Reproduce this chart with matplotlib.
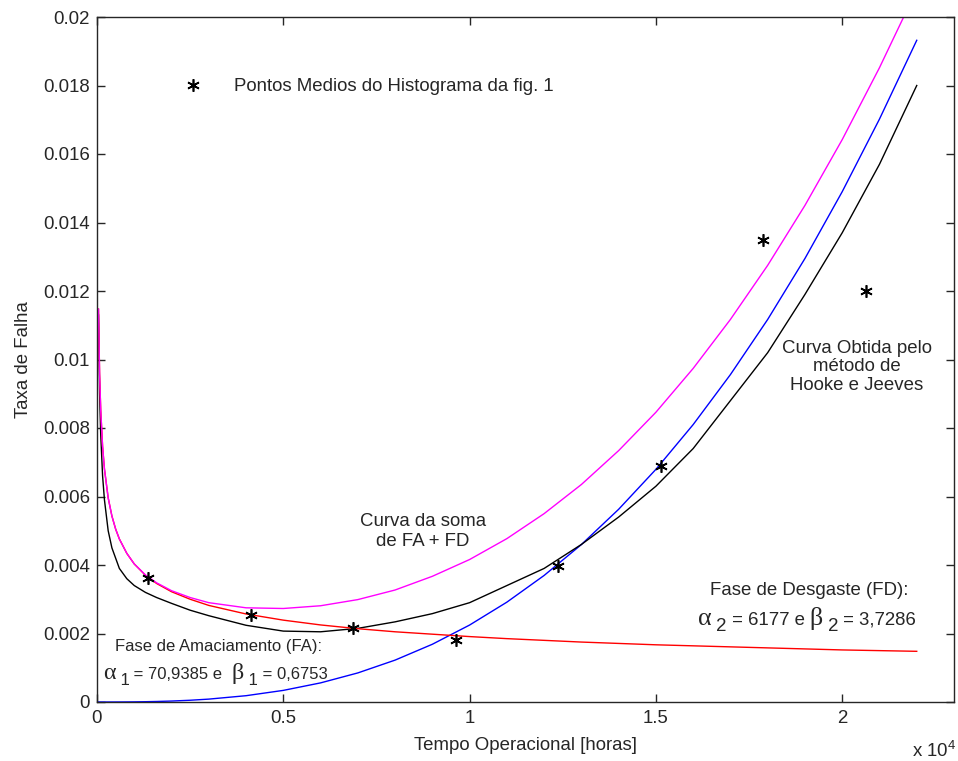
import matplotlib
matplotlib.use("Agg")
import matplotlib.pyplot as plt
from matplotlib.ticker import FixedLocator, FixedFormatter

plt.rcParams["font.family"] = ["Liberation Sans", "DejaVu Sans"]

# tempo operacional (horas) onde as curvas foram lidas
tempo = [40, 70, 100, 150, 200, 300, 400, 500, 600, 800, 1000, 1300, 1600,
         2000, 2500, 3000, 4000, 5000, 6000, 7000, 8000, 9000, 10000, 11000,
         12000, 13000, 14000, 15000, 16000, 17000, 18000, 19000, 20000, 21000,
         22000]

# fase de amaciamento (FA) - vermelho
taxa_fa = [0.01147, 0.00956, 0.00852, 0.00746, 0.00680, 0.00596, 0.00543,
           0.00505, 0.00476, 0.00434, 0.00403, 0.00370, 0.00346, 0.00322,
           0.00300, 0.00282, 0.00257, 0.00239, 0.00225, 0.00214, 0.00205,
           0.00198, 0.00191, 0.00185, 0.00180, 0.00175, 0.00171, 0.00167,
           0.00164, 0.00161, 0.00158, 0.00155, 0.00152, 0.00150, 0.00148]

# fase de desgaste (FD) - azul
taxa_fd = [0.0, 0.0, 0.0, 0.0, 0.0, 0.0, 0.0000003, 0.0000006, 0.000001,
           0.0000024, 0.0000042, 0.0000086, 0.0000151, 0.0000278, 0.0000511,
           0.0000842, 0.000184, 0.000339, 0.000558, 0.000849, 0.001223,
           0.001686, 0.002247, 0.002915, 0.003695, 0.004597, 0.005627,
           0.006793, 0.00810, 0.00956, 0.01117, 0.01295, 0.01490, 0.01702,
           0.01932]

# soma FA + FD - magenta
taxa_soma = [0.01147, 0.00956, 0.00852, 0.00746, 0.00680, 0.00596, 0.00543,
             0.00505, 0.00476, 0.00434, 0.00403, 0.00371, 0.00348, 0.00325,
             0.00305, 0.00290, 0.00275, 0.00273, 0.00281, 0.00299, 0.00327,
             0.00367, 0.00416, 0.00477, 0.00550, 0.00635, 0.00734, 0.00846,
             0.00974, 0.01117, 0.01275, 0.01450, 0.01642, 0.01852, 0.02080]

# curva obtida pelo metodo de Hooke e Jeeves - preto
taxa_hj = [0.0113, 0.0090, 0.0078, 0.0066, 0.0059, 0.0050, 0.0045, 0.0042,
           0.0039, 0.0036, 0.0034, 0.0032, 0.00305, 0.00288, 0.00268,
           0.00252, 0.00224, 0.00207, 0.00205, 0.00215, 0.00234, 0.00258,
           0.0029, 0.0034, 0.0039, 0.0046, 0.0054, 0.0063, 0.0074, 0.0088,
           0.0102, 0.0119, 0.0137, 0.0157, 0.0180]

# pontos medios do histograma
t_medio = [1375, 4125, 6875, 9625, 12375, 15125, 17875, 20625]
taxa_medio = [0.00362, 0.00254, 0.00216, 0.00181, 0.00397, 0.00689,
              0.01349, 0.01200]

x_ticks = [0, 5000, 10000, 15000, 20000]
x_labels = ["0", "0.5", "1", "1.5", "2"]
y_ticks = [0, 0.002, 0.004, 0.006, 0.008, 0.01, 0.012, 0.014, 0.016, 0.018, 0.02]
y_labels = ["0", "0.002", "0.004", "0.006", "0.008", "0.01", "0.012",
            "0.014", "0.016", "0.018", "0.02"]

fs = 13.4
fs_fa = 12.0
cor_eixo = "#262626"

fig = plt.figure(figsize=(9.58, 7.61), dpi=100)
ax = fig.add_axes([97 / 958, 1 - 702 / 761, 857 / 958, 685 / 761])

ax.plot(tempo, taxa_fd, color="#0000ff", lw=1.0)
ax.plot(tempo, taxa_hj, color="black", lw=1.0)
ax.plot(tempo, taxa_fa, color="#ff0000", lw=1.0)
ax.plot(tempo, taxa_soma, color="#ff00ff", lw=1.0)
ax.plot(t_medio, taxa_medio, linestyle="none", marker=(6, 2, 0), color="black",
        markersize=9, markeredgewidth=1.2,
        label="Pontos Medios do Histograma da fig. 1")

ax.set_xlim(0, 23000)
ax.set_ylim(0, 0.02)
ax.xaxis.set_major_locator(FixedLocator(x_ticks))
ax.xaxis.set_major_formatter(FixedFormatter(x_labels))
ax.yaxis.set_major_locator(FixedLocator(y_ticks))
ax.yaxis.set_major_formatter(FixedFormatter(y_labels))
ax.tick_params(direction="in", top=True, right=True, length=6, width=1.0,
               labelsize=fs, colors=cor_eixo)
ax.tick_params(axis="y", pad=5)
ax.tick_params(axis="x", pad=6)
for sp in ax.spines.values():
    sp.set_color(cor_eixo)
    sp.set_linewidth(1.0)

ax.set_xlabel("Tempo Operacional [horas]", fontsize=fs, color=cor_eixo, labelpad=7)
ax.set_ylabel("Taxa de Falha", fontsize=fs, color=cor_eixo, labelpad=8)

fig.text(912 / 958, 1 - 751 / 761, r"x 10$^{\mathregular{4}}$", fontsize=fs,
         color=cor_eixo, ha="left", va="center")

leg = ax.legend(loc="upper left", bbox_to_anchor=((182 - 97) / 857, (702 - 78) / 685),
                frameon=False, fontsize=fs, handlelength=1.2, handletextpad=1.6,
                borderpad=0, borderaxespad=0)
for t in leg.get_texts():
    t.set_color(cor_eixo)

ax.text(8745, 0.00499, "Curva da soma\nde FA + FD", fontsize=fs, color=cor_eixo,
        ha="center", va="center", linespacing=1.22)
ax.text(20386, 0.00979, "Curva Obtida pelo\nmétodo de\nHooke e Jeeves",
        fontsize=fs, color=cor_eixo, ha="center", va="center", linespacing=1.13)
ax.text(16443, 0.00327, "Fase de Desgaste (FD):", fontsize=fs, color=cor_eixo,
        ha="left", va="center")
ax.text(483, 0.00161, "Fase de Amaciamento (FA):", fontsize=fs_fa, color=cor_eixo,
        ha="left", va="center")


def texto_parametros(x, y, partes):
    # cada parte: (texto, tamanho, deslocamento vertical em pontos, familia)
    s, size, dy, fam = partes[0]
    prev = ax.annotate(s, xy=(x, y), xytext=(0, dy), textcoords="offset points",
                       fontsize=size, family=fam, color=cor_eixo,
                       ha="left", va="baseline")
    for s, size, dy, fam in partes[1:]:
        prev = ax.annotate(s, xy=(1, y), xycoords=(prev, "data"), xytext=(0, dy),
                           textcoords="offset points", fontsize=size, family=fam,
                           color=cor_eixo, ha="left", va="baseline")


grego = ["Liberation Serif", "DejaVu Serif"]
sans = ["Liberation Sans", "DejaVu Sans"]
texto_parametros(16121, 0.00226, [
    ("\u03b1", fs * 1.4, 0, grego), (" 2", fs, -4.5, sans),
    (" = 6177 e ", fs, 0, sans), ("\u03b2", fs * 1.4, 0, grego),
    (" 2", fs, -4.5, sans), (" = 3,7286", fs, 0, sans)])
texto_parametros(161, 0.00066, [
    ("\u03b1", fs_fa * 1.45, 0, grego), (" 1", fs_fa, -4, sans),
    (" = 70,9385 e  ", fs_fa, 0, sans), ("\u03b2", fs_fa * 1.45, 0, grego),
    (" 1", fs_fa, -4, sans), (" = 0,6753", fs_fa, 0, sans)])

fig.savefig("out.png", dpi=100)
